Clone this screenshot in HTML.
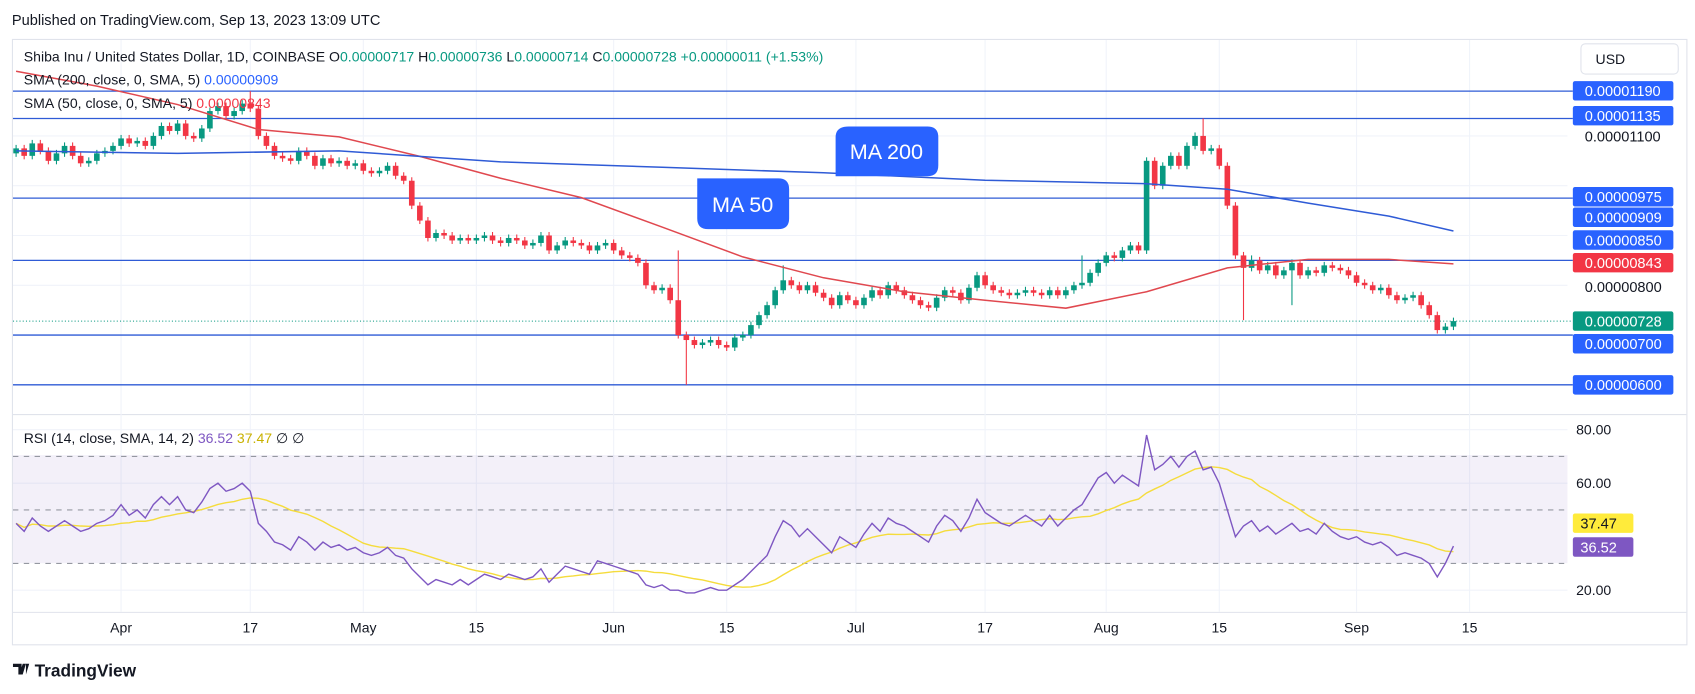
<!DOCTYPE html>
<html><head><meta charset="utf-8"><style>
html,body{margin:0;padding:0;background:#fff;overflow:hidden}
svg{display:block;font-family:"Liberation Sans",Arial,sans-serif}
</style></head><body>
<svg id="chart" width="1695" height="694" viewBox="0 0 1568 642" preserveAspectRatio="none" xmlns="http://www.w3.org/2000/svg">
<rect x="0" y="0" width="1568" height="642" fill="#fff"/>
<text x="11" y="23" font-size="13.5" fill="#131722">Published on TradingView.com, Sep 13, 2023 13:09 UTC</text>
<rect x="11.5" y="36.5" width="1549" height="560" fill="none" stroke="#e0e3eb"/>
<line x1="12" y1="383.5" x2="1560" y2="383.5" stroke="#e0e3eb"/>
<line x1="12" y1="566.5" x2="1560" y2="566.5" stroke="#e0e3eb"/>
<g id="grid"></g>
<rect x="12" y="421" width="1438" height="100" fill="#7e57c2" fill-opacity="0.09"/>
<g id="rsidash"></g>
<g id="hlines"></g>
<g id="candles"></g>
<g id="mas"></g>
<g id="rsi"></g>
<g>
<path d="M785 117 H858 Q868 117 868 127 V153 Q868 163 858 163 H773 V127 Q773 117 785 117 Z" fill="#2962ff"/>
<text x="820" y="147" font-size="20" fill="#fff" text-anchor="middle">MA 200</text></g>
<g>
<path d="M655 165 H720 Q730 165 730 175 V202 Q730 212 720 212 H655 Q645 212 645 202 V165 Z" fill="#2962ff"/>
<text x="687" y="196" font-size="20" fill="#fff" text-anchor="middle">MA 50</text></g>
<g id="legend" font-size="13" fill="#131722">
<text x="22" y="57">Shiba Inu / United States Dollar, 1D, COINBASE  <tspan>O</tspan><tspan fill="#089981">0.00000717</tspan>  H<tspan fill="#089981">0.00000736</tspan>  L<tspan fill="#089981">0.00000714</tspan>  C<tspan fill="#089981">0.00000728</tspan>  <tspan fill="#089981">+0.00000011 (+1.53%)</tspan></text>
<text x="22" y="78">SMA (200, close, 0, SMA, 5)  <tspan fill="#2962ff">0.00000909</tspan></text>
<text x="22" y="100">SMA (50, close, 0, SMA, 5)  <tspan fill="#f23645">0.00000843</tspan></text>
<text x="22" y="410">RSI (14, close, SMA, 14, 2)  <tspan fill="#7e57c2">36.52</tspan>  <tspan fill="#c9b100">37.47</tspan>  ∅  ∅</text>
</g>
<g><rect x="1462.5" y="40.5" width="90" height="28" rx="4" fill="#fff" stroke="#e0e3eb"/><text x="1476" y="59" font-size="13" fill="#131722">USD</text></g>
<g id="axis"></g>
<g>
<path d="M12 614 h8 v10 h-3 v-7 h-5z M21 614 h3 l-3 10 h-3z M24 614 h3 l-3 10h-0z" fill="#131722"/>
<text x="32" y="626" font-size="16" font-weight="bold" fill="#131722">TradingView</text></g>
</svg>
<script>
const closes=[1075,1060,1085,1070,1050,1065,1080,1060,1045,1050,1065,1070,1080,
1095,1085,1090,1080,1100,1120,1110,1125,1100,1095,1115,1150,1160,1140,1150,1165,1155,1100,1080,1060,1055,1050,1070,1060,1040,1055,1045,1050,1040,1045,
1030,1025,1030,1040,1020,1010,960,930,895,905,900,890,895,890,895,900,890,885,895,890,880,885,900,870,880,890,885,880,870,880,885,
870,860,855,845,800,790,795,770,700,690,680,685,690,680,675,695,700,720,740,760,790,810,800,790,800,785,775,760,780,770,
760,775,790,780,800,790,780,770,760,755,775,790,785,770,795,820,800,790,785,780,785,790,785,780,790,780,790,800,805,825,845,
860,855,870,880,870,1050,1000,1040,1060,1040,1080,1100,1070,1075,1040,960,860,835,850,830,840,820,830,845,820,830,825,840,835,830,820,
805,800,790,795,780,770,775,780,760,740,710,717,728];
const highExtra={29:1190,37:980,66:905,82:870,95:840,132:860,147:1135,153:860};
const lowExtra={83:600,152:730,158:760,176:706};
const rsiVals=[45,42,47,44,42,44,46,44,42,43,45,46,48,
52,48,50,47,52,55,52,55,50,49,53,58,60,57,58,60,57,45,42,38,37,35,40,38,35,38,36,37,35,36,
34,33,34,36,33,32,28,25,22,24,23,22,24,22,24,26,25,24,26,25,24,25,28,23,26,29,28,27,26,31,30,
29,28,27,26,22,21,22,20,20,19,19,20,21,20,20,22,24,27,30,33,40,46,44,40,43,40,37,34,40,38,
36,41,45,42,47,45,44,42,40,38,44,48,46,42,47,54,49,47,45,44,46,48,46,44,48,44,47,50,52,57,62,
64,60,63,61,59,78,65,67,70,66,70,72,65,66,60,50,40,44,46,42,44,41,43,45,42,43,41,45,42,40,39,
40,38,37,38,36,33,34,33,32,30,25,30,36.52];
const maIdx=[0,10,20,30,40,50,60,70,80,90,100,110,120,130,140,150,160,170,178];
const sma50=[1230,1200,1163,1113,1098,1059,1015,976,917,857,815,787,770,754,787,835,852,852,843];
const sma200Idx=[0,20,40,60,80,100,120,140,150,160,170,178];
const sma200=[1070,1065,1070,1048,1037,1026,1011,1004,993,965,939,909];
const levels=[1190,1135,975,850,700,600];
const dateLabels=["Apr","17","May","15","Jun","15","Jul","17","Aug","15","Sep","15"];
const dateIdx=[13,29,43,57,74,88,104,120,135,149,166,180];
const rsiTicks=[80,60,20];
const priceLabels=[["0.00001190",84,"#2962ff"],["0.00001135",107,"#2962ff"],["0.00001100",126,null],["0.00000975",182,"#2962ff"],["0.00000909",201,"#2962ff"],["0.00000850",222,"#2962ff"],["0.00000843",243,"#f23645"],["0.00000800",265,null],["0.00000728",297,"#089981"],["0.00000700",318,"#2962ff"],["0.00000600",356,"#2962ff"]];

const NS="http://www.w3.org/2000/svg";
const X=i=>112+(i-13)*7.47;
const Y=p=>356-(p-600)*0.4605;
const RY=v=>546-(v-20)*2.475;
function mk(tag,attrs,parent){const e=document.createElementNS(NS,tag);for(const k in attrs)e.setAttribute(k,attrs[k]);document.getElementById(parent).appendChild(e);return e;}

dateIdx.forEach((d,i)=>{const g=mk('line',{x1:X(d),x2:X(d),y1:37,y2:566,stroke:'#f0f3fa'},'grid');

});
[800,900,1000,1100].forEach(p=>{const g=mk('line',{x1:12,x2:1450,y1:Y(p),y2:Y(p),stroke:'#f0f3fa'},'grid');

});
rsiTicks.forEach(v=>{const g=mk('line',{x1:12,x2:1450,y1:RY(v),y2:RY(v),stroke:'#f0f3fa'},'grid');

});
[70,50,30].forEach(v=>{const l=mk('line',{x1:12,x2:1450,y1:RY(v),y2:RY(v),stroke:'#9598a1','stroke-dasharray':'5,5'},'rsidash');

});

levels.forEach(p=>{const l=mk('line',{x1:12,x2:1455,y1:Y(p),y2:Y(p),stroke:'#2f5bd6','stroke-width':1.2},'hlines');

});
const cl=mk('line',{x1:12,x2:1455,y1:Y(closes[closes.length-1]),y2:Y(closes[closes.length-1]),stroke:'#089981','stroke-dasharray':'1,2'},'hlines');



closes.forEach((c,i)=>{
  const o=i===0?1065:closes[i-1];
  const hi=Math.max(highExtra[i]||0,Math.max(o,c)+7), lo=Math.min(lowExtra[i]||9999,Math.min(o,c)-7);
  const col=c>=o?'#089981':'#f23645';
  const w=mk('line',{x1:X(i),x2:X(i),y1:Y(hi),y2:Y(lo),stroke:col,'stroke-width':1},'candles');
  
  
  const b=mk('rect',{x:X(i)-2.6,width:5.2,y:Y(Math.max(o,c)),height:Math.max(1,Math.abs(Y(o)-Y(c))),fill:col},'candles');
  
  
});

const p50=mk('polyline',{points:maIdx.map((d,i)=>X(d)+','+Y(sma50[i])).join(' '),fill:'none',stroke:'#e0484f','stroke-width':1.4},'mas');


const p200=mk('polyline',{points:sma200Idx.map((d,i)=>X(d)+','+Y(sma200[i])).join(' '),fill:'none',stroke:'#2f5bd6','stroke-width':1.4},'mas');



const sig=rsiVals.map((v,i)=>{const s=rsiVals.slice(Math.max(0,i-13),i+1);return s.reduce((a,b)=>a+b,0)/s.length;});
const ps=mk('polyline',{points:sig.map((v,i)=>X(i)+','+RY(v)).join(' '),fill:'none',stroke:'#f5dc3c','stroke-width':1.3},'rsi');


const pr=mk('polyline',{points:rsiVals.map((v,i)=>X(i)+','+RY(v)).join(' '),fill:'none',stroke:'#7e57c2','stroke-width':1.3},'rsi');



dateLabels.forEach((t,i)=>{const e=mk('text',{x:X(dateIdx[i]),y:585,'font-size':13,fill:'#131722','text-anchor':'middle'},'axis');e.textContent=t;

});
rsiTicks.forEach(v=>{const e=mk('text',{x:1458,y:RY(v)+4.5,'font-size':13,fill:'#131722'},'axis');e.textContent=v.toFixed(2);

});
priceLabels.forEach(([t,y,c])=>{
  if(c){const r=mk('rect',{x:1455,y:y-9,width:93,height:18,rx:2,fill:c},'axis');
  
  }
  const e=mk('text',{x:1466,y:y+5,'font-size':13.5,fill:c?'#fff':'#131722'},'axis');e.textContent=t;
  
  
});
[["37.47",484,'#ffeb3b','#131722'],["36.52",506,'#7e57c2','#fff']].forEach(([t,y,bg,fg])=>{
  const r=mk('rect',{x:1455,y:y-9,width:56,height:18,rx:2,fill:bg},'axis');
  
  
  const e=mk('text',{x:1462,y:y+5,'font-size':13.5,fill:fg},'axis');e.textContent=t;
  
  
});
</script>
</body></html>
